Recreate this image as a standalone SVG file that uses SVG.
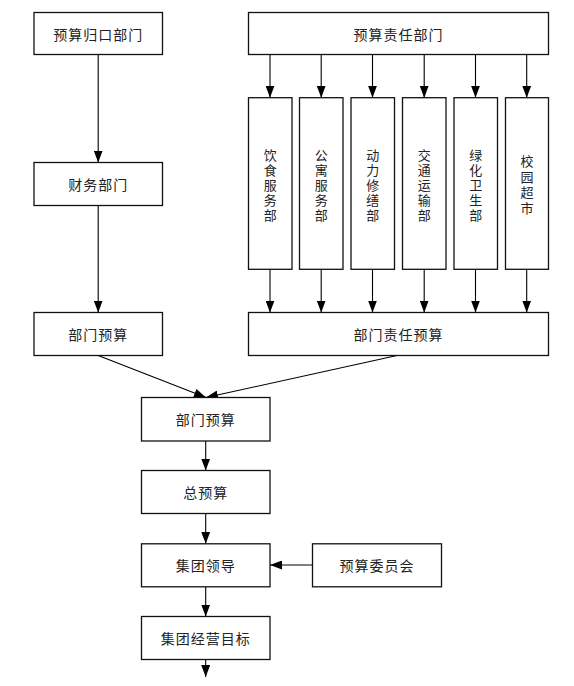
<svg xmlns="http://www.w3.org/2000/svg" width="574" height="686" viewBox="0 0 574 686">
<style>
.box{fill:#fff;stroke:#111;stroke-width:1.3}
.t{font-family:"Noto Sans CJK SC","Liberation Sans",sans-serif;font-size:14px;fill:#222;text-anchor:middle;dominant-baseline:central;letter-spacing:1px}
.v{font-family:"Noto Sans CJK SC","Liberation Sans",sans-serif;font-size:13px;fill:#222;text-anchor:middle;dominant-baseline:central}
.c{stroke:#000;stroke-width:1.1;fill:none;marker-end:url(#ah)}
</style>
<defs>
<marker id="ah" markerUnits="userSpaceOnUse" markerWidth="12" markerHeight="9" refX="12" refY="4.5" orient="auto">
<path d="M0,0 L12,4.5 L0,9 z" fill="#000"/>
</marker>
</defs>
<rect width="574" height="686" fill="#fff"/>
<g id="connectors">
<line class="c" x1="98.2" y1="54.5" x2="98.2" y2="162.5"/>
<line class="c" x1="98.2" y1="205.5" x2="98.2" y2="312.5"/>
<line class="c" x1="270" y1="54.5" x2="270" y2="97.7"/>
<line class="c" x1="321.2" y1="54.5" x2="321.2" y2="97.7"/>
<line class="c" x1="372.5" y1="54.5" x2="372.5" y2="97.7"/>
<line class="c" x1="424.2" y1="54.5" x2="424.2" y2="97.7"/>
<line class="c" x1="475.5" y1="54.5" x2="475.5" y2="97.7"/>
<line class="c" x1="526.7" y1="54.5" x2="526.7" y2="97.7"/>
<line class="c" x1="270" y1="269.3" x2="270" y2="312.5"/>
<line class="c" x1="321.2" y1="269.3" x2="321.2" y2="312.5"/>
<line class="c" x1="372.5" y1="269.3" x2="372.5" y2="312.5"/>
<line class="c" x1="424.2" y1="269.3" x2="424.2" y2="312.5"/>
<line class="c" x1="475.5" y1="269.3" x2="475.5" y2="312.5"/>
<line class="c" x1="526.7" y1="269.3" x2="526.7" y2="312.5"/>
<line class="c" x1="98.2" y1="355.5" x2="206" y2="397.5"/>
<line class="c" x1="397" y1="355.5" x2="206" y2="397.5"/>
<line class="c" x1="205.7" y1="441" x2="205.7" y2="470.5"/>
<line class="c" x1="205.7" y1="513.5" x2="205.7" y2="543.8"/>
<line class="c" x1="205.7" y1="586.8" x2="205.7" y2="616.5"/>
<line class="c" x1="205.7" y1="659.5" x2="205.7" y2="677"/>
<line class="c" x1="312.5" y1="565" x2="270" y2="565"/>
</g>
<g id="n1"><rect class="box" x="34" y="12.5" width="128.5" height="42"/><text class="t" x="98.2" y="33.5">预算归口部门</text></g>
<g id="n2"><rect class="box" x="34" y="162.5" width="128.5" height="43"/><text class="t" x="98.2" y="184">财务部门</text></g>
<g id="n3"><rect class="box" x="34" y="312.5" width="128.5" height="43"/><text class="t" x="98.2" y="334">部门预算</text></g>
<g id="n4"><rect class="box" x="248.5" y="12.5" width="300" height="42"/><text class="t" x="398.5" y="33.5">预算责任部门</text></g>
<g id="n5"><rect class="box" x="248.5" y="97.7" width="43.5" height="171.6"/><text class="v" x="270.2"><tspan x="270.2" y="153.5">饮</tspan><tspan x="270.2" y="168.5">食</tspan><tspan x="270.2" y="183.5">服</tspan><tspan x="270.2" y="198.5">务</tspan><tspan x="270.2" y="213.5">部</tspan></text></g>
<g id="n6"><rect class="box" x="299.5" y="97.7" width="43.5" height="171.6"/><text class="v" x="321.2"><tspan x="321.2" y="153.5">公</tspan><tspan x="321.2" y="168.5">寓</tspan><tspan x="321.2" y="183.5">服</tspan><tspan x="321.2" y="198.5">务</tspan><tspan x="321.2" y="213.5">部</tspan></text></g>
<g id="n7"><rect class="box" x="351" y="97.7" width="43.5" height="171.6"/><text class="v" x="372.7"><tspan x="372.7" y="153.5">动</tspan><tspan x="372.7" y="168.5">力</tspan><tspan x="372.7" y="183.5">修</tspan><tspan x="372.7" y="198.5">缮</tspan><tspan x="372.7" y="213.5">部</tspan></text></g>
<g id="n8"><rect class="box" x="402.5" y="97.7" width="43.5" height="171.6"/><text class="v" x="424.2"><tspan x="424.2" y="153.5">交</tspan><tspan x="424.2" y="168.5">通</tspan><tspan x="424.2" y="183.5">运</tspan><tspan x="424.2" y="198.5">输</tspan><tspan x="424.2" y="213.5">部</tspan></text></g>
<g id="n9"><rect class="box" x="454" y="97.7" width="43.5" height="171.6"/><text class="v" x="475.7"><tspan x="475.7" y="153.5">绿</tspan><tspan x="475.7" y="168.5">化</tspan><tspan x="475.7" y="183.5">卫</tspan><tspan x="475.7" y="198.5">生</tspan><tspan x="475.7" y="213.5">部</tspan></text></g>
<g id="n10"><rect class="box" x="505.5" y="97.7" width="43" height="171.6"/><text class="v" x="527"><tspan x="527" y="160.25">校</tspan><tspan x="527" y="175.75">园</tspan><tspan x="527" y="191.25">超</tspan><tspan x="527" y="206.75">市</tspan></text></g>
<g id="n11"><rect class="box" x="248.5" y="312.5" width="300" height="43"/><text class="t" x="398.5" y="334">部门责任预算</text></g>
<g id="n12"><rect class="box" x="141.5" y="397.5" width="128.5" height="43.5"/><text class="t" x="205.7" y="419">部门预算</text></g>
<g id="n13"><rect class="box" x="141.5" y="470.5" width="128.5" height="43"/><text class="t" x="205.7" y="492">总预算</text></g>
<g id="n14"><rect class="box" x="141.5" y="543.8" width="128.5" height="43"/><text class="t" x="205.7" y="565.3">集团领导</text></g>
<g id="n15"><rect class="box" x="312.5" y="543.8" width="129" height="43"/><text class="t" x="377" y="565.3">预算委员会</text></g>
<g id="n16"><rect class="box" x="141.5" y="616.5" width="128.5" height="43"/><text class="t" x="205.7" y="638">集团经营目标</text></g>
</svg>
